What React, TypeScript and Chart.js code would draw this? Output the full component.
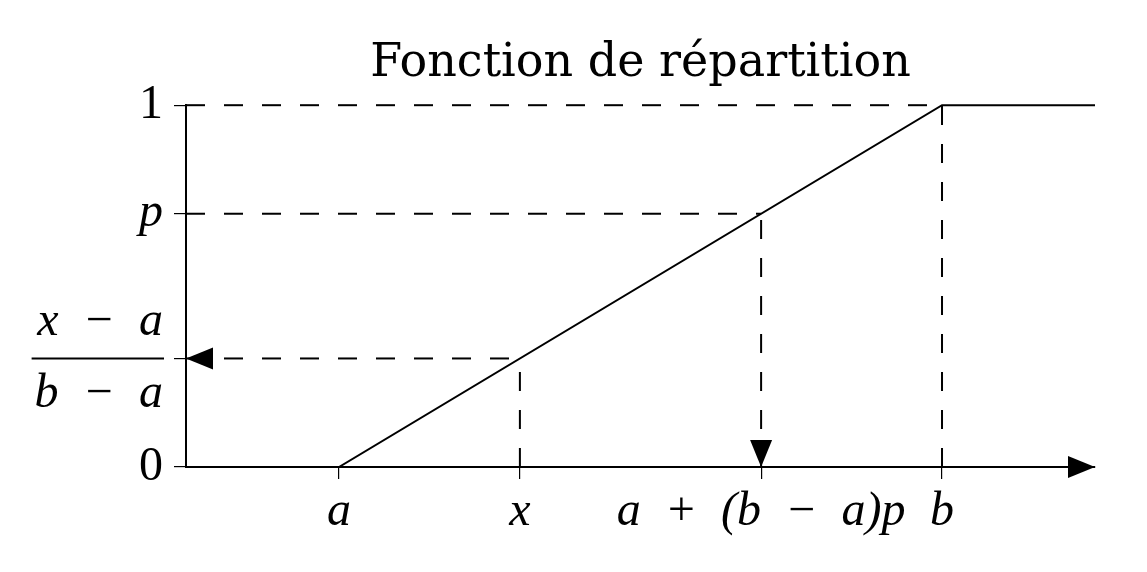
import React, { useEffect, useRef } from "react";
import { Chart, registerables } from "chart.js";

Chart.register(...registerables);

// ---- data (a = 0, b = 1 in data units) ----
const A_VAL = 0;
const B_VAL = 1;
const X_VAL = 0.3; // the point x
const P_VAL = 0.7; // the probability p
const X_MIN = -0.2537;
const X_MAX = 1.2537;

const xTickValues = [A_VAL, X_VAL, P_VAL, B_VAL];
const xTickLabels = ["a", "x", "a\u2002+\u2002(b\u2002\u2212\u2002a)p", "b"];
const yTickValues = [0, X_VAL, P_VAL, 1];
const yTickLabels: (string | string[])[] = ["0", ["x\u2002\u2212\u2002a", "b\u2002\u2212\u2002a"], "p", "1"];

const cdfX = [X_MIN, A_VAL, B_VAL, X_MAX];
const cdfY = [0, 0, 1, 1];

// horizontal dashed guides: level y, from the y axis to the curve at x
const hGuideY = [1, P_VAL, X_VAL];
const hGuideEndX = [B_VAL, P_VAL, X_VAL];
// vertical dashed guides: at x, from 0 up to the curve
const vGuideX = [X_VAL, P_VAL, B_VAL];
const vGuideTopY = [X_VAL, P_VAL, 1];

const TITLE = "Fonction de répartition";

const SERIF = "'Liberation Serif', 'DejaVu Serif', serif";
const TITLE_FONT = "'DejaVu Serif', 'Liberation Serif', serif";
const LABEL_SIZE = 48;

const arrowPlugin = {
  id: "arrows",
  afterDatasetsDraw(chart: any) {
    const { ctx, chartArea, scales } = chart;
    const xs = scales.x;
    const ys = scales.y;
    const tri = (tx: number, ty: number, dir: "left" | "right" | "down") => {
      const L = 27;
      const H = 11;
      ctx.beginPath();
      if (dir === "right") {
        ctx.moveTo(tx, ty);
        ctx.lineTo(tx - L, ty - H);
        ctx.lineTo(tx - L, ty + H);
      } else if (dir === "left") {
        ctx.moveTo(tx, ty);
        ctx.lineTo(tx + L, ty - H);
        ctx.lineTo(tx + L, ty + H);
      } else {
        ctx.moveTo(tx, ty);
        ctx.lineTo(tx - H, ty - L);
        ctx.lineTo(tx + H, ty - L);
      }
      ctx.closePath();
      ctx.fill();
    };
    ctx.save();
    ctx.fillStyle = "#000";
    tri(chartArea.right, ys.getPixelForValue(0), "right");
    tri(chartArea.left, ys.getPixelForValue(X_VAL), "left");
    tri(xs.getPixelForValue(P_VAL), ys.getPixelForValue(0), "down");
    ctx.restore();
  },
  afterDraw(chart: any) {
    // fraction bar under the (x-a)/(b-a) tick label
    const { ctx, scales } = chart;
    const ys = scales.y;
    const yPix = ys.getPixelForValue(X_VAL);
    ctx.save();
    ctx.font = `italic ${LABEL_SIZE}px ${SERIF}`;
    const lbl = yTickLabels[1] as string[];
    const w = Math.max(ctx.measureText(lbl[0]).width, ctx.measureText(lbl[1]).width);
    const right = ys.right - 12 - 11;
    ctx.strokeStyle = "#000";
    ctx.lineWidth = 2;
    ctx.beginPath();
    ctx.moveTo(right - w - 3, yPix);
    ctx.lineTo(right + 1, yPix);
    ctx.stroke();
    ctx.restore();
  },
};

export default function App() {
  const ref = useRef<HTMLCanvasElement | null>(null);

  useEffect(() => {
    document.body.style.margin = "0";
    if (!ref.current) return;

    const dashed = {
      borderColor: "#000",
      borderWidth: 2,
      borderDash: [19, 19],
      showLine: true,
      pointRadius: 0,
      fill: false,
      clip: false,
    };

    const datasets: any[] = [];
    hGuideY.forEach((y, i) => {
      datasets.push({
        ...dashed,
        data: [
          { x: X_MIN, y },
          { x: hGuideEndX[i], y },
        ],
      });
    });
    vGuideX.forEach((x, i) => {
      datasets.push({
        ...dashed,
        data: [
          { x, y: 0 },
          { x, y: vGuideTopY[i] },
        ],
      });
    });
    datasets.push({
      borderColor: "#000",
      borderWidth: 2,
      showLine: true,
      pointRadius: 0,
      fill: false,
      clip: false,
      data: cdfX.map((x, i) => ({ x, y: cdfY[i] })),
    });

    const chart = new Chart(ref.current, {
      type: "scatter",
      data: { datasets },
      plugins: [arrowPlugin],
      options: {
        animation: false,
        responsive: false,
        layout: { padding: { left: 0, right: 52, top: 0, bottom: 0 } },
        plugins: {
          legend: { display: false },
          tooltip: { enabled: false },
          title: {
            display: true,
            fullSize: false,
            text: TITLE,
            color: "#000",
            font: { family: TITLE_FONT, size: 46, weight: "normal" },
            padding: { top: 36, bottom: 14 },
          },
        },
        scales: {
          x: {
            type: "linear",
            min: X_MIN,
            max: X_MAX,
            afterBuildTicks: (s: any) => {
              s.ticks = xTickValues.map((v) => ({ value: v }));
            },
            afterFit: (s: any) => {
              s.height = 105;
            },
            grid: {
              display: true,
              drawOnChartArea: false,
              drawTicks: true,
              tickLength: 12,
              color: "#000",
              lineWidth: 1.2,
            },
            border: { display: true, color: "#000", width: 2 },
            ticks: {
              autoSkip: false,
              maxRotation: 0,
              color: "#000",
              padding: 5,
              font: { family: SERIF, size: LABEL_SIZE, style: "italic" },
              callback: (_v: any, i: number) => xTickLabels[i],
            },
          },
          y: {
            type: "linear",
            min: 0,
            max: 1,
            afterBuildTicks: (s: any) => {
              s.ticks = yTickValues.map((v) => ({ value: v }));
            },
            afterFit: (s: any) => {
              s.width = 186;
            },
            grid: {
              display: true,
              drawOnChartArea: false,
              drawTicks: true,
              tickLength: 12,
              color: "#000",
              lineWidth: 1.2,
            },
            border: { display: true, color: "#000", width: 2 },
            ticks: {
              autoSkip: false,
              color: "#000",
              padding: 11,
              font: (c: any) => {
                const i = c.index;
                const upright = i === 0 || i === 3;
                return {
                  family: SERIF,
                  size: LABEL_SIZE,
                  style: upright ? "normal" : "italic",
                  lineHeight: 1.5,
                };
              },
              callback: (_v: any, i: number) => yTickLabels[i] as any,
            },
          },
        },
      } as any,
    });

    return () => chart.destroy();
  }, []);

  return (
    <div style={{ width: 1147, height: 572 }}>
      <canvas ref={ref} width={1147} height={572} style={{ display: "block" }} />
    </div>
  );
}
